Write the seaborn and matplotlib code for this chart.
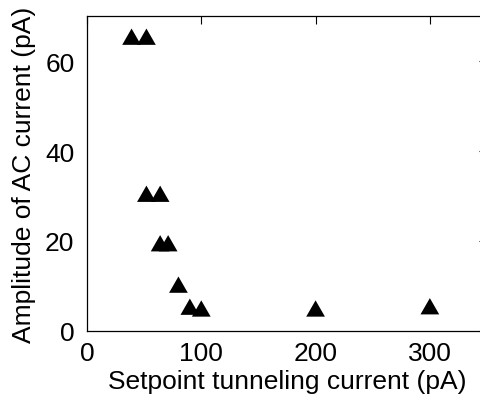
import matplotlib
matplotlib.use("Agg")
import matplotlib.pyplot as plt
import seaborn as sns
import pandas as pd
from matplotlib.path import Path

setpoint_pA = [39, 52, 52, 64, 64, 71, 80, 90, 100, 200, 300]
amplitude_pA = [65.4, 65.4, 30.5, 30.5, 19.5, 19.5, 10.3, 5.4, 5.0, 5.0, 5.5]
x_ticks = [0, 100, 200, 300]
y_ticks = [0, 20, 40, 60]

df = pd.DataFrame({"x": setpoint_pA, "y": amplitude_pA})

sns.set_theme(style="white")
plt.rcParams['font.family'] = ['Liberation Sans', 'DejaVu Sans']

fig = plt.figure(figsize=(4.8, 4.06), dpi=100)
ax = fig.add_axes([87/480, 74/406, 400/480, 315/406])

tri = Path([(-1, -0.87), (1, -0.87), (0, 0.87), (-1, -0.87)],
           [Path.MOVETO, Path.LINETO, Path.LINETO, Path.CLOSEPOLY])
sns.scatterplot(data=df, x="x", y="y", ax=ax, marker=tri, s=182,
                color="black", edgecolor="none", linewidth=0, legend=False)

ax.set_xlim(0, 350)
ax.set_ylim(0, 70)
ax.set_xticks(x_ticks)
ax.set_yticks(y_ticks)
ax.tick_params(direction="in", length=5.8, width=0.8, top=True, right=True,
               labelsize=19, colors="black")
ax.tick_params(axis="x", pad=7)
ax.tick_params(axis="y", pad=9)
for sp in ax.spines.values():
    sp.set_visible(True)
    sp.set_color("black")
    sp.set_linewidth(0.9)
ax.set_xlabel("Setpoint tunneling current (pA)", fontsize=19, color="black", labelpad=3)
ax.set_ylabel("Amplitude of AC current (pA)", fontsize=19, color="black", labelpad=6.5)

fig.savefig("out.png", dpi=100)
